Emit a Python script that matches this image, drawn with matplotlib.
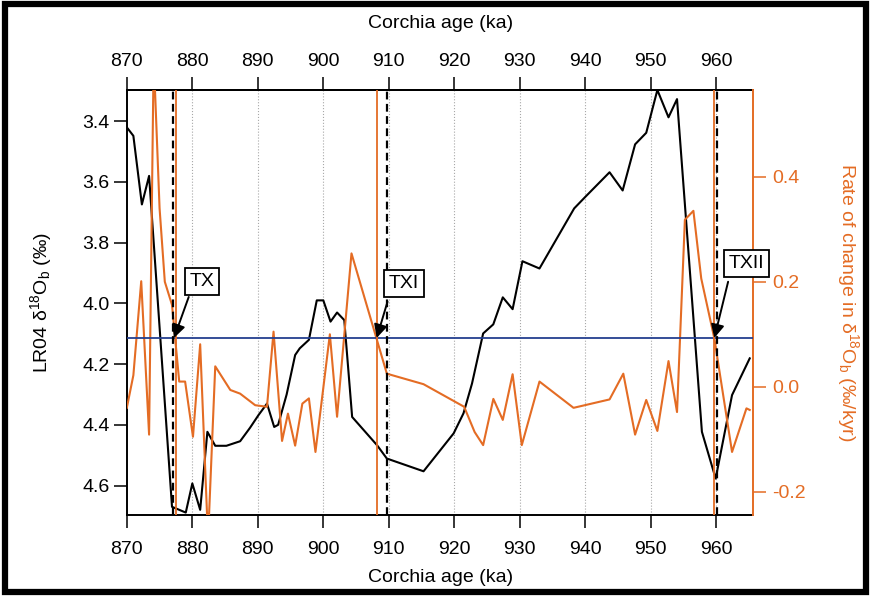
import matplotlib
matplotlib.use("Agg")
import matplotlib.pyplot as plt
from matplotlib.patches import Rectangle

plt.rcParams['font.family'] = ['Liberation Sans', 'DejaVu Sans']
plt.rcParams['mathtext.default'] = 'regular'
plt.rcParams['axes.unicode_minus'] = False

# LR04 benthic stack on the Corchia timescale
AGE_LR04 = [870.0, 871.0, 872.3, 873.4, 876.9, 879.0, 880.0, 881.2, 882.3, 883.5,
            885.2, 887.3, 888.8, 890.1, 891.4, 892.5, 893.1, 894.4, 895.7, 896.4,
            897.8, 899.0, 900.0, 901.1, 902.1, 903.2, 904.4, 908.2, 909.7, 915.3,
            919.9, 921.4, 922.7, 924.4, 925.95, 927.4, 928.9, 930.4, 933.0, 938.3,
            940.0, 943.7, 945.7, 947.6, 949.3, 951.0, 952.7, 954.0, 957.8, 959.9,
            962.4, 965.1]
D18O_LR04 = [3.42, 3.448, 3.674, 3.58, 4.67, 4.689, 4.593, 4.68, 4.423, 4.469,
             4.469, 4.454, 4.41, 4.368, 4.33, 4.407, 4.40, 4.30, 4.17, 4.148,
             4.12, 3.99, 3.99, 4.06, 4.03, 4.055, 4.374, 4.467, 4.511, 4.553,
             4.428, 4.362, 4.264, 4.099, 4.069, 3.98, 4.019, 3.861, 3.885, 3.687,
             3.649, 3.568, 3.628, 3.476, 3.438, 3.297, 3.387, 3.327, 4.423, 4.577,
             4.302, 4.181]

# rate of change of d18O (permil/kyr)
AGE_RATE = [870.0, 871.0, 872.2, 873.4, 874.1, 875.0, 875.8, 876.9, 878.0, 878.9,
            880.1, 881.2, 882.4, 883.5, 885.8, 887.3, 889.6, 891.4, 892.4, 893.7,
            894.6, 895.7, 896.8, 897.8, 898.8, 901.0, 902.1, 904.3, 909.7, 915.3,
            921.5, 923.1, 924.4, 925.96, 927.4, 928.9, 930.3, 933.0, 938.2, 943.7,
            945.8, 947.6, 949.3, 951.0, 952.7, 954.0, 955.2, 956.5, 957.7, 959.7,
            962.4, 964.6, 965.1]
RATE = [-0.04, 0.022, 0.201, -0.091, 0.63, 0.34, 0.20, 0.156, 0.01, 0.01,
        -0.095, 0.081, -0.29, 0.039, -0.006, -0.013, -0.035, -0.038, 0.105, -0.103,
        -0.051, -0.112, -0.032, -0.022, -0.124, 0.10, -0.057, 0.254, 0.025, 0.005,
        -0.038, -0.086, -0.111, -0.023, -0.063, 0.024, -0.111, 0.01, -0.04, -0.024,
        0.025, -0.091, -0.025, -0.084, 0.049, -0.048, 0.318, 0.335, 0.206, 0.092,
        -0.124, -0.041, -0.044]

THRESHOLD = 0.093                       # rate threshold (blue line)
LR04_TERM = [877.1, 909.7, 960.05]      # LR04 termination ages (dashed)
RATE_TERM = [877.5, 908.2, 959.65]      # threshold crossings (orange)
TERM_NAMES = ['TX', 'TXI', 'TXII']
TERM_TIPS = [877.2, 908.15, 959.7]
LABEL_POS = [(881.5, 0.201), (912.3, 0.196), (964.6, 0.235)]
ARROW_TAIL = [(879.45, 0.171), (909.8, 0.162), (961.8, 0.200)]

ORANGE = '#E46C24'
BLUE = '#243F8F'

fig = plt.figure(figsize=(8.71, 5.96), dpi=100)
ax = fig.add_axes([0.1456, 0.1359, 0.7193, 0.7131])

ax.set_xlim(870, 965.65)
ax.set_ylim(4.697, 3.297)
ax.set_xticks(range(870, 961, 10))
ax.set_yticks([3.4, 3.6, 3.8, 4.0, 4.2, 4.4, 4.6])
ax.set_yticklabels([f'{v:.1f}' for v in [3.4, 3.6, 3.8, 4.0, 4.2, 4.4, 4.6]])
for x in range(880, 961, 10):
    ax.axvline(x, color='#a8a8a8', ls=':', lw=0.8, zorder=1)

ax.plot(AGE_LR04, D18O_LR04, color='k', lw=1.5, zorder=3)

ax.set_xlabel('Corchia age (ka)', fontsize=14, labelpad=8)
ax.set_ylabel('LR04 δ$^{18}$O$_b$ (‰)', fontsize=14, labelpad=20)
ax.tick_params(axis='x', direction='out', length=9.5, width=1.1, labelsize=14, pad=9)
ax.tick_params(axis='y', direction='out', length=9.5, width=1.1, labelsize=14, pad=3)
for s in ['top', 'bottom', 'left']:
    ax.spines[s].set_linewidth(1.4)
ax.spines['right'].set_visible(False)

top = ax.secondary_xaxis('top')
top.set_xticks(range(870, 961, 10))
top.set_xlabel('Corchia age (ka)', fontsize=14, labelpad=18)
top.tick_params(direction='out', length=9.5, width=1.1, labelsize=14, pad=5)
top.spines['top'].set_linewidth(1.4)

ax2 = ax.twinx()
ax2.set_ylim(-0.244, 0.565)
ax2.set_yticks([-0.2, 0.0, 0.2, 0.4])
ax2.set_yticklabels([f'{v:.1f}' for v in [-0.2, 0.0, 0.2, 0.4]])
ax2.plot(AGE_RATE, RATE, color=ORANGE, lw=1.5, zorder=2)
ax2.axhline(THRESHOLD, color=BLUE, lw=1.3, zorder=4)
for x in RATE_TERM:
    ax2.axvline(x, color=ORANGE, lw=1.3, zorder=4)
for x in LR04_TERM:
    ax2.axvline(x, color='k', lw=1.6, ls=(0, (3.5, 2)), zorder=5)

for name, tip, pos, tail in zip(TERM_NAMES, TERM_TIPS, LABEL_POS, ARROW_TAIL):
    ax2.text(pos[0], pos[1], name, fontsize=14, ha='center', va='center', zorder=7,
             bbox=dict(boxstyle='square,pad=0.25', fc='white', ec='k', lw=1.3))
    ax2.annotate('', xy=(tip, THRESHOLD), xytext=tail, zorder=6,
                 arrowprops=dict(arrowstyle='-|>', color='k', lw=1.4,
                                 mutation_scale=20, shrinkA=0, shrinkB=0))

ax2.set_ylabel('Rate of change in δ$^{18}$O$_b$ (‰/kyr)', fontsize=14,
               color=ORANGE, rotation=270, labelpad=40)
ax2.tick_params(axis='y', direction='out', length=9.5, width=1.1, labelsize=14,
                colors=ORANGE, pad=4)
for s in ['top', 'bottom', 'left']:
    ax2.spines[s].set_visible(False)
ax2.spines['right'].set_color(ORANGE)
ax2.spines['right'].set_linewidth(1.4)

# black frame round the figure
fig.patches.append(Rectangle((0.006, 0.006), 0.988, 0.988, transform=fig.transFigure,
                             fill=False, ec='k', lw=4.5, zorder=10))

fig.savefig('out.png', dpi=100)
